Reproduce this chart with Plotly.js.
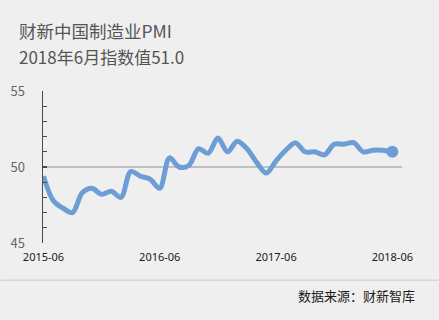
<!DOCTYPE html>
<html>
<head>
<meta charset="utf-8">
<script src="https://cdn.plot.ly/plotly-3.0.1.min.js"></script>
<style>
  html, body { margin: 0; padding: 0; background: #efefef; }
  #chart { width: 439px; height: 320px; }
</style>
</head>
<body>
<div id="chart"></div>
<script>
// Caixin China manufacturing PMI, monthly, 2015-06 .. 2018-06
const months = [
  "2015-06","2015-07","2015-08","2015-09","2015-10","2015-11","2015-12",
  "2016-01","2016-02","2016-03","2016-04","2016-05","2016-06","2016-07",
  "2016-08","2016-09","2016-10","2016-11","2016-12","2017-01","2017-02",
  "2017-03","2017-04","2017-05","2017-06","2017-07","2017-08","2017-09",
  "2017-10","2017-11","2017-12","2018-01","2018-02","2018-03","2018-04",
  "2018-05","2018-06"
];
const pmi = [
  49.4, 47.8, 47.3, 47.0, 48.3, 48.6, 48.2,
  48.4, 48.0, 49.7, 49.4, 49.2, 48.6, 50.6,
  50.0, 50.1, 51.2, 50.9, 51.9, 51.0, 51.7,
  51.2, 50.3, 49.6, 50.4, 51.1, 51.6, 51.0,
  51.0, 50.8, 51.5, 51.5, 51.6, 51.0, 51.1,
  51.1, 51.0
];
const xTickLabels = ["2015-06", "2016-06", "2017-06", "2018-06"];
const yTicks = [45, 50, 55];
const titleText = "财新中国制造业PMI";
const subtitleText = "2018年6月指数值51.0";
const sourceText = "数据来源：财新智库";

const lineColor = "#6d9dd5";
const cjk = "'Noto Sans CJK SC', 'Noto Sans', sans-serif";

const lastIdx = pmi.length - 1;

const traces = [
  {
    x: months,
    y: pmi,
    type: "scatter",
    mode: "lines",
    line: { color: lineColor, width: 5, shape: "spline", smoothing: 0.9 },
    hoverinfo: "skip"
  },
  {
    x: [months[lastIdx]],
    y: [pmi[lastIdx]],
    type: "scatter",
    mode: "markers",
    marker: { color: lineColor, size: 12 },
    cliponaxis: false,
    hoverinfo: "skip"
  }
];

const layout = {
  width: 439,
  height: 320,
  paper_bgcolor: "#efefef",
  plot_bgcolor: "#efefef",
  showlegend: false,
  margin: { l: 43, r: 36.5, t: 90.7, b: 77.3 },
  xaxis: {
    type: "category",
    range: [-0.05, months.length],
    tickmode: "array",
    tickvals: xTickLabels,
    ticktext: xTickLabels,
    ticks: "",
    showline: false,
    showgrid: false,
    zeroline: false,
    ticklabelstandoff: 6,
    tickfont: { family: "'Noto Sans', sans-serif", size: 11, color: "#1a1a1a" }
  },
  yaxis: {
    range: [45, 55],
    tickmode: "array",
    tickvals: yTicks,
    showline: true,
    linecolor: "#4a4a4a",
    linewidth: 1.5,
    ticks: "inside",
    ticklen: 4,
    tickwidth: 1.2,
    tickcolor: "#4a4a4a",
    minor: { dtick: 1, ticks: "inside", ticklen: 4, tickwidth: 1.2, tickcolor: "#4a4a4a", showgrid: false },
    showgrid: false,
    zeroline: false,
    ticklabelstandoff: 14,
    tickfont: { family: cjk, size: 13, color: "#666666" }
  },
  shapes: [
    {
      type: "line", xref: "paper", yref: "y",
      x0: 0, x1: 1, y0: 50, y1: 50,
      line: { color: "#b0b0b0", width: 1.5 },
      layer: "below"
    },
    {
      type: "line", xref: "paper", yref: "paper",
      x0: -43 / 359.5, x1: 396 / 359.5,
      y0: -37.3 / 152, y1: -37.3 / 152,
      line: { color: "#d6d6d6", width: 1.5 }
    }
  ],
  annotations: [
    {
      text: titleText, xref: "paper", yref: "paper",
      x: -26 / 359.5, y: 1 + 60.5 / 152, xanchor: "left", yanchor: "middle",
      showarrow: false,
      font: { family: cjk, size: 17.5, color: "#555555" }
    },
    {
      text: subtitleText, xref: "paper", yref: "paper",
      x: -26 / 359.5, y: 1 + 35 / 152, xanchor: "left", yanchor: "middle",
      showarrow: false,
      font: { family: cjk, size: 17, color: "#555555" }
    },
    {
      text: sourceText, xref: "paper", yref: "paper",
      x: 375 / 359.5, y: -52.3 / 152, xanchor: "right", yanchor: "middle",
      showarrow: false,
      font: { family: cjk, size: 13, color: "#1a1a1a" }
    }
  ]
};

Plotly.newPlot("chart", traces, layout, { staticPlot: true, displayModeBar: false });
</script>
</body>
</html>
